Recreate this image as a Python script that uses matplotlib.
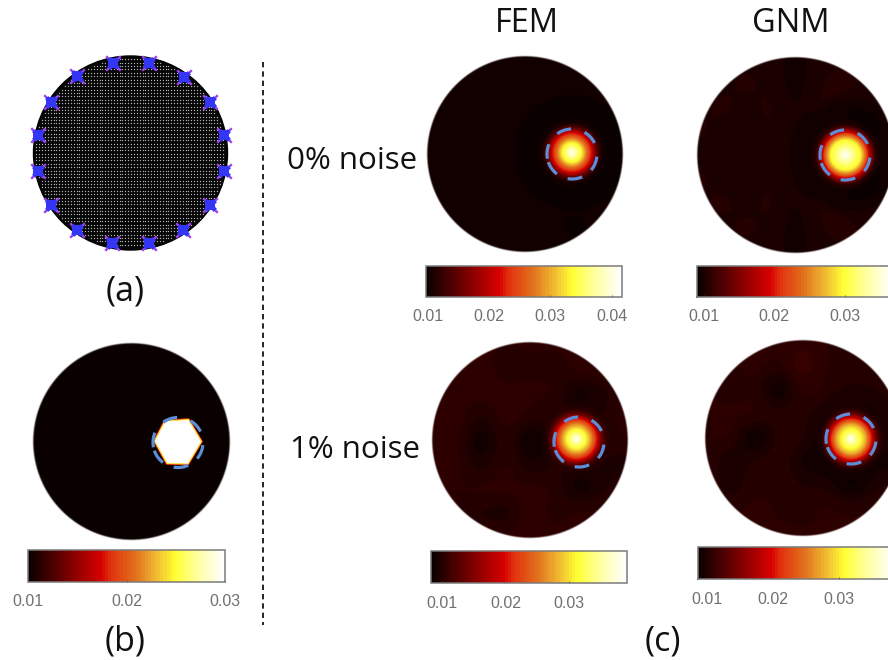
import matplotlib
matplotlib.use('Agg')
import matplotlib.pyplot as plt
import numpy as np
from matplotlib.cm import ScalarMappable
from matplotlib.colors import LinearSegmentedColormap, Normalize
from matplotlib.patches import Circle, Polygon

W, H = 888, 660
RADIUS = 98

# electrodes of panel (a) (pixels)
electrode_x = [112.7, 149, 184, 210, 224, 224, 210, 183.3, 149, 112.3, 77.3, 50.7, 37.7, 37.7, 50.7, 77.3]
electrode_y = [62.7, 62.7, 76.7, 102, 135.3, 171.3, 205, 230, 243.3, 243.3, 230, 205, 171.3, 135.3, 102, 76]

# inclusion of panel (b)
hex_x = [154.5, 165, 188.5, 201.5, 188, 167]
hex_y = [441, 421, 419.5, 441.5, 464, 463.5]

# start angle of each dash of the true inclusion outline
dash_start = [92, 26, -40, -100, -161, 157]
dash_len = 34

# background conductivity, 1e-3 units, on a 9x9 grid over each disc
bg_b = [[10.0] * 9] * 9
bg_fem0 = [
    [10.4, 10.4, 10.4, 10.4, 10.4, 10.4, 10.4, 10.4, 10.4],
    [10.4, 10.4, 10.4, 10.4, 10.4, 10.4, 10.4, 10.4, 10.4],
    [10.4, 10.4, 10.4, 10.4, 10.4, 10.4, 10.4, 10.4, 10.4],
    [10.4, 10.4, 10.4, 10.4, 10.4, 10.4, 10.4, 10.4, 10.4],
    [10.4, 10.4, 10.4, 10.4, 10.4, 10.4, 10.4, 10.4, 10.4],
    [10.4, 10.4, 10.4, 10.4, 10.4, 10.4, 10.4, 10.4, 10.4],
    [10.4, 10.4, 10.4, 10.4, 10.4, 10.4, 10.3, 10.3, 10.4],
    [10.4, 10.4, 10.2, 10.4, 10.4, 10.4, 10.0, 10.4, 10.4],
    [10.4, 10.4, 10.4, 10.4, 10.4, 10.4, 10.4, 10.4, 10.4],
]
bg_gnm0 = [
    [10.0, 10.2, 10.2, 10.1, 9.7, 10.1, 10.2, 10.2, 10.0],
    [10.2, 10.2, 10.4, 10.2, 9.6, 10.3, 10.5, 10.2, 10.2],
    [10.2, 10.4, 10.2, 10.4, 9.8, 10.4, 10.1, 9.9, 10.2],
    [10.4, 10.2, 10.1, 10.3, 10.0, 10.2, 10.0, 9.8, 10.3],
    [10.2, 10.1, 9.8, 10.3, 10.2, 10.1, 10.0, 10.0, 10.1],
    [10.4, 10.2, 10.1, 10.3, 10.0, 10.2, 10.0, 9.8, 10.3],
    [10.2, 10.4, 10.2, 10.4, 9.8, 10.4, 10.1, 9.9, 10.2],
    [10.2, 10.2, 10.4, 10.2, 9.6, 10.3, 10.5, 10.2, 10.2],
    [10.0, 10.2, 10.2, 10.1, 9.7, 10.1, 10.2, 10.2, 10.0],
]
bg_fem1 = [
    [10.4, 10.4, 10.4, 10.2, 10.4, 10.4, 10.4, 10.4, 10.4],
    [10.4, 10.4, 10.6, 9.8, 10.0, 9.8, 10.6, 10.8, 10.4],
    [10.4, 10.2, 10.6, 10.4, 10.4, 10.4, 9.0, 9.6, 10.6],
    [10.2, 10.6, 9.6, 10.6, 10.2, 10.2, 10.2, 10.0, 10.6],
    [10.2, 10.4, 8.6, 10.2, 8.6, 10.0, 10.4, 10.4, 10.4],
    [10.2, 10.4, 9.4, 10.4, 9.4, 10.2, 10.0, 10.0, 9.4],
    [10.4, 10.2, 10.4, 10.4, 10.4, 10.2, 9.0, 9.6, 10.4],
    [10.6, 10.2, 9.6, 9.4, 10.6, 10.0, 10.4, 10.4, 10.4],
    [10.4, 10.4, 10.4, 10.4, 10.6, 10.4, 10.4, 10.4, 10.4],
]
bg_gnm1 = [
    [10.6, 10.6, 10.6, 10.4, 10.8, 10.4, 10.6, 10.6, 10.6],
    [10.6, 10.4, 10.6, 10.4, 11.4, 10.4, 10.2, 10.6, 10.6],
    [10.6, 10.2, 10.4, 8.8, 10.6, 10.4, 10.0, 10.0, 10.6],
    [10.4, 10.6, 10.6, 10.2, 10.4, 10.0, 10.0, 9.8, 10.4],
    [10.4, 10.6, 8.6, 10.2, 10.4, 9.4, 10.2, 10.2, 10.2],
    [10.6, 9.4, 10.2, 10.4, 9.4, 9.6, 10.0, 9.8, 9.6],
    [10.6, 9.6, 10.4, 10.4, 10.0, 10.0, 9.0, 10.0, 10.2],
    [10.6, 10.4, 10.6, 10.4, 10.2, 10.6, 10.4, 10.6, 10.6],
    [10.6, 10.6, 10.6, 10.6, 10.6, 10.6, 10.6, 10.6, 10.6],
]

# radial profile of the recovered blob: distance in pixels, height above background in 1e-3 units
profile_r = [0, 5, 10, 15, 20, 25, 30, 36, 45, 56, 60]
profile_fem0 = [31.0, 26.5, 22.5, 16.5, 11.0, 4.0, 0.3, -0.4, -0.4, -0.4, 0]
profile_gnm0 = [26.5, 24.0, 21.5, 19.5, 13.5, 6.0, 0.5, -0.6, -0.6, -0.3, 0]
profile_fem1 = [28.5, 24.0, 20.5, 16.0, 10.5, 3.5, 0.2, -0.3, -0.2, -0.1, 0]
profile_gnm1 = [28.0, 23.5, 20.5, 17.0, 11.0, 4.0, 0.2, -0.4, -0.3, -0.1, 0]
profile_none = [0, 0, 0, 0, 0, 0, 0, 0, 0, 0, 0]

# name, disc centre x, y, field, profile, blob x, y, dashed circle x, y
panels = [
    ('b', 130.5, 442, bg_b, profile_none, 178, 442, 178, 442.5),
    ('fem0', 525, 154.5, bg_fem0, profile_fem0, 572, 153, 572, 154),
    ('gnm0', 795, 155, bg_gnm0, profile_gnm0, 845, 155, 845, 155),
    ('fem1', 529.5, 440, bg_fem1, profile_fem1, 576, 439, 579, 442),
    ('gnm1', 803, 438, bg_gnm1, profile_gnm1, 851, 439, 851, 439),
]

# name, bar x0, x1, y0, y1, low, high, ticks, tick labels
colorbars = [
    ('b', 28, 225, 550, 582, 0.0100, 0.0300, [0.01, 0.02, 0.03], ['0.01', '0.02', '0.03']),
    ('fem0', 426, 622, 266, 297, 0.0097, 0.0417, [0.01, 0.02, 0.03, 0.04], ['0.01', '0.02', '0.03', '0.04']),
    ('gnm0', 697, 893, 266, 297, 0.0090, 0.0369, [0.01, 0.02, 0.03], ['0.01', '0.02', '0.03']),
    ('fem1', 431, 627, 551, 583, 0.0083, 0.0391, [0.01, 0.02, 0.03], ['0.01', '0.02', '0.03']),
    ('gnm1', 698, 894, 547, 579, 0.0086, 0.0383, [0.01, 0.02, 0.03], ['0.01', '0.02', '0.03']),
]

# text, x, y, font size
titles = [('FEM', 527, 24, 23.5), ('GNM', 791, 24, 23.5), ('0% noise', 352, 161, 22.5), ('1% noise', 355, 450, 22.5),
          ('(a)', 125, 291, 24.5), ('(b)', 125, 642, 24.5), ('(c)', 663, 641, 24.5)]

# colour map
cmap_pos = [0, 0.37, 0.42, 0.55, 0.66, 0.75, 0.88, 1]
cmap_rgb = ['#0a0000', '#d70000', '#e1320f', '#e1731e', '#f0be32', '#ffff32', '#ffffaa', '#ffffff']
CMAP = LinearSegmentedColormap.from_list('bars', list(zip(cmap_pos, cmap_rgb)), N=64)
BLUE = '#5b8ed6'
TEXT_FONT = ['Open Sans', 'DejaVu Sans']


def px_axes(fig, x0, x1, y0, y1):
    # axes placed in picture pixels, y measured from the top
    ax = fig.add_axes([x0 / W, 1 - y1 / H, (x1 - x0) / W, (y1 - y0) / H])
    return ax


def disc_axes(fig, cx, cy):
    ax = px_axes(fig, cx - RADIUS - 2, cx + RADIUS + 2, cy - RADIUS - 2, cy + RADIUS + 2)
    ax.set_xlim(cx - RADIUS - 2, cx + RADIUS + 2)
    ax.set_ylim(cy + RADIUS + 2, cy - RADIUS - 2)
    ax.axis('off')
    ax.patch.set_alpha(0)
    return ax


def smooth(a, n):
    # moving average over one grid cell, along the rows
    kernel = np.ones(n) / n
    pad = np.pad(a, ((0, 0), (n, n)), mode='edge')
    return np.array([np.convolve(row, kernel, mode='same') for row in pad])[:, n:-n]


def upsample(grid, cx, cy, xs, ys):
    grid = np.array(grid, dtype=float)
    nodes = np.linspace(-RADIUS, RADIUS, grid.shape[0])
    rows = np.array([np.interp(xs - cx, nodes, row) for row in grid])
    out = np.array([np.interp(ys - cy, nodes, col) for col in rows.T]).T
    out = smooth(out, 35)
    out = smooth(out.T, 35).T
    return out


def draw_field(fig, name, cx, cy, bg, profile, bx, by, dx, dy, low, high):
    ax = disc_axes(fig, cx, cy)
    xs = np.arange(cx - RADIUS - 2, cx + RADIUS + 2.01, 0.5)
    ys = np.arange(cy - RADIUS - 2, cy + RADIUS + 2.01, 0.5)
    field = upsample(bg, cx, cy, xs, ys)
    xx, yy = np.meshgrid(xs, ys)
    field = (field + np.interp(np.hypot(xx - bx, yy - by), profile_r, profile)) * 1e-3
    # soft disc edge
    alpha = np.clip((RADIUS - np.hypot(xx - cx, yy - cy)) / 1.4 + 0.5, 0, 1)
    ax.imshow(field, extent=[xs[0], xs[-1], ys[-1], ys[0]], cmap=CMAP, norm=Normalize(low, high),
              alpha=alpha, interpolation='bilinear', aspect='auto')
    if name == 'b':
        ax.add_patch(Polygon(np.column_stack([hex_x, hex_y]), closed=True, fc='white', ec='#d42000', lw=2.0))
        ax.add_patch(Polygon(np.column_stack([hex_x, hex_y]), closed=True, fc='white', ec='#ffe040', lw=0.8))
    for start in dash_start:
        t = np.radians(np.linspace(start, start + dash_len, 20))
        ax.plot(dx + 25 * np.cos(t), dy - 25 * np.sin(t), color=BLUE, lw=2.3, solid_capstyle='butt')


def draw_colorbar(fig, x0, x1, y0, y1, low, high, ticks, labels):
    cax = px_axes(fig, x0, x1, y0, y1)
    sm = ScalarMappable(norm=Normalize(low, high), cmap=CMAP)
    cb = fig.colorbar(sm, cax=cax, orientation='horizontal', ticks=ticks)
    cb.ax.set_xticklabels(labels, family='Liberation Sans', fontsize=11.5, color='#707070')
    cb.ax.tick_params(axis='x', direction='in', length=1.5, width=0.6, color='#444444', pad=9)
    cb.outline.set_edgecolor('#7a7a7a')
    cb.outline.set_linewidth(1.1)


def draw_mesh(fig):
    cx, cy, r = 130.5, 153, 97
    ax = px_axes(fig, 20, 241, 43, 263)
    ax.set_xlim(20, 241)
    ax.set_ylim(263, 43)
    ax.axis('off')
    ax.patch.set_alpha(0)
    ax.add_patch(Circle((cx, cy), r, fc='#060606', ec='black', lw=1))
    # the mesh nodes
    nx, ny = [], []
    for y in np.arange(-r, r + 0.1, 3.37):
        for x in np.arange(-r, r + 0.1, 2.87):
            if np.hypot(x, y) < r - 2:
                nx.append(cx + x)
                ny.append(cy + y)
    ax.scatter(nx, ny, s=0.9, color='white', linewidths=0, alpha=0.7)
    ax.scatter(electrode_x, electrode_y, s=110, marker='x', color='#a040f0', linewidths=1.7, zorder=2)
    ax.scatter(electrode_x, electrode_y, s=42, marker='s', color='#3535f5', linewidths=0, zorder=3)
    ax.scatter(electrode_x, electrode_y, s=85, marker='X', color='#3535f5', linewidths=0, zorder=4)


def main():
    fig = plt.figure(figsize=(W / 100, H / 100), dpi=100)
    back = fig.add_axes([0, 0, 1, 1])
    back.set_xlim(0, W)
    back.set_ylim(H, 0)
    back.axis('off')
    back.plot([263, 263], [62, 625], color='black', lw=1.2, dashes=(3.2, 2.4))
    for txt, x, y, size in titles:
        back.text(x, y, txt, family=TEXT_FONT, fontsize=size, ha='center', va='center', color='#111111')

    draw_mesh(fig)
    limits = {c[0]: c for c in colorbars}
    for name, cx, cy, bg, profile, bx, by, dx, dy in panels:
        c = limits[name]
        draw_field(fig, name, cx, cy, bg, profile, bx, by, dx, dy, c[5], c[6])
        draw_colorbar(fig, c[1], c[2], c[3], c[4], c[5], c[6], c[7], c[8])

    fig.savefig('out.png', dpi=100)
    plt.close(fig)


if __name__ == "__main__":
    main()
